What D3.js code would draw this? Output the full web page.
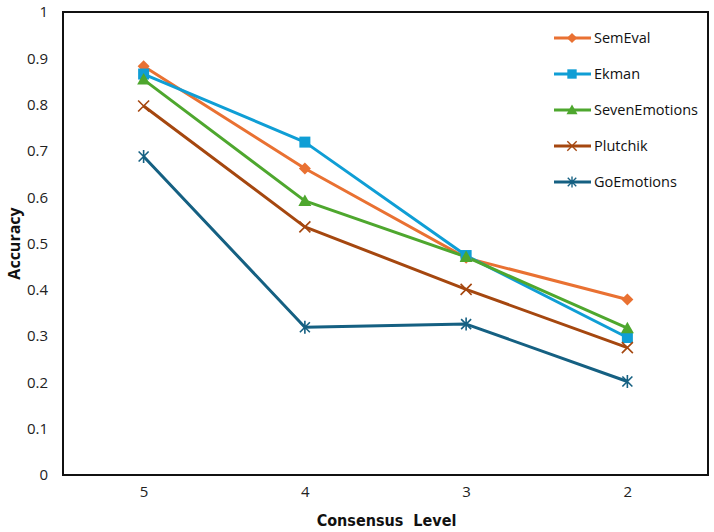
<!DOCTYPE html>
<html>
  <head>
    <meta charset="utf-8">
    <title>Accuracy by consensus level</title>
    <script src="https://cdn.jsdelivr.net/npm/d3@7"></script>
    <style>
      body { margin: 0; background: #fff; }
      svg { display: block; font-family: "Open Sans", "Noto Sans", sans-serif; }
      .tick text { font-size: 15px; fill: #222; }
      .axisTitle { font-weight: bold; font-size: 16px; fill: #111; }
      .legend text { font-size: 14.5px; fill: #111; }
    </style>
  </head>
  <body>
    <svg id="chart" width="714" height="532"></svg>
    <script>
      // data
      levels = ["5", "4", "3", "2"];
      semEval = [0.883, 0.662, 0.469, 0.379];
      ekman = [0.866, 0.719, 0.474, 0.297];
      sevenEmotions = [0.854, 0.592, 0.471, 0.317];
      plutchik = [0.797, 0.536, 0.401, 0.275];
      goEmotions = [0.688, 0.319, 0.326, 0.202];
      yTicks = [0, 0.1, 0.2, 0.3, 0.4, 0.5, 0.6, 0.7, 0.8, 0.9, 1];

      series = [
        { name: "SemEval", values: semEval, colour: "#e97132", symbol: "diamond" },
        { name: "Ekman", values: ekman, colour: "#0f9ed5", symbol: "square" },
        { name: "SevenEmotions", values: sevenEmotions, colour: "#4ea72e", symbol: "triangle" },
        { name: "Plutchik", values: plutchik, colour: "#a5470f", symbol: "cross" },
        { name: "GoEmotions", values: goEmotions, colour: "#156082", symbol: "asterisk" }
      ];

      svg = d3.select("#chart");
      margin = { top: 12, right: 6, bottom: 57, left: 63 };
      width = 714;
      height = 532;

      x = d3.scalePoint()
        .domain(levels)
        .range([margin.left, width - margin.right])
        .padding(0.5);
      y = d3.scaleLinear()
        .domain([0, 1])
        .range([height - margin.bottom, margin.top]);

      // frame
      svg.append("rect")
        .attr("x", margin.left)
        .attr("y", margin.top)
        .attr("width", width - margin.right - margin.left)
        .attr("height", height - margin.bottom - margin.top)
        .attr("fill", "none")
        .attr("stroke", "#111")
        .attr("stroke-width", 2);

      // axes
      yAxis = svg.append("g")
        .attr("transform", "translate(" + margin.left + ",0)")
        .call(d3.axisLeft(y).tickValues(yTicks).tickSize(0).tickPadding(15)
          .tickFormat(function(d) { return d === 0 || d === 1 ? d : d3.format(".1f")(d); }));
      yAxis.select(".domain").remove();
      xAxis = svg.append("g")
        .attr("transform", "translate(0," + (height - margin.bottom) + ")")
        .call(d3.axisBottom(x).tickSize(0).tickPadding(11));
      xAxis.select(".domain").remove();
      svg.selectAll(".tick text").attr("font-family", "'Open Sans', sans-serif");

      svg.append("text")
        .classed("axisTitle", true)
        .attr("transform", "translate(20," + y(0.5) + ") rotate(-90)")
        .attr("text-anchor", "middle")
        .text("Accuracy");
      svg.append("text")
        .classed("axisTitle", true)
        .attr("x", (margin.left + width - margin.right) / 2 + 1)
        .attr("y", 526)
        .attr("text-anchor", "middle")
        .style("font-family", "'Liberation Sans Narrow', 'DejaVu Sans Condensed', sans-serif")
        .style("font-size", "16px")
        .attr("xml:space", "preserve")
        .text("Consensus  Level");

      // markers
      function drawMarker(g, symbol, colour) {
        if (symbol === "diamond") {
          g.append("path").attr("d", "M0,-6L6,0L0,6L-6,0Z").attr("fill", colour);
        } else if (symbol === "square") {
          g.append("rect").attr("x", -5.5).attr("y", -5.5).attr("width", 11).attr("height", 11).attr("fill", colour);
        } else if (symbol === "triangle") {
          g.append("path").attr("d", "M0,-6.5L6.5,5L-6.5,5Z").attr("fill", colour);
        } else if (symbol === "cross") {
          g.append("path").attr("d", "M-5.5,-5.5L5.5,5.5M5.5,-5.5L-5.5,5.5").attr("stroke", colour).attr("stroke-width", 1.6).attr("fill", "none");
        } else {
          g.append("path").attr("d", "M-5,-5L5,5M5,-5L-5,5M0,-6.5L0,6.5").attr("stroke", colour).attr("stroke-width", 1.6).attr("fill", "none");
        }
      }

      line = d3.line()
        .x(function(d, i) { return x(levels[i]); })
        .y(function(d) { return y(d); });

      plot = svg.append("g");
      series.forEach(function(s) {
        plot.append("path")
          .attr("d", line(s.values))
          .attr("fill", "none")
          .attr("stroke", s.colour)
          .attr("stroke-width", 3)
          .attr("stroke-linejoin", "round");
      });
      series.forEach(function(s) {
        s.values.forEach(function(v, i) {
          let g = plot.append("g").attr("transform", "translate(" + x(levels[i]) + "," + y(v) + ")");
          drawMarker(g, s.symbol, s.colour);
        });
      });

      // legend
      legend = svg.append("g").classed("legend", true);
      series.forEach(function(s, i) {
        let ly = 38 + i * 36;
        let g = legend.append("g").attr("transform", "translate(0," + ly + ")");
        g.append("line")
          .attr("x1", 554).attr("x2", 591)
          .attr("stroke", s.colour).attr("stroke-width", 3);
        let m = g.append("g").attr("transform", "translate(572,0) scale(0.85)");
        drawMarker(m, s.symbol, s.colour);
        g.append("text")
          .attr("x", 594)
          .attr("dy", "0.35em")
          .text(s.name);
      });
    </script>
  </body>
</html>
